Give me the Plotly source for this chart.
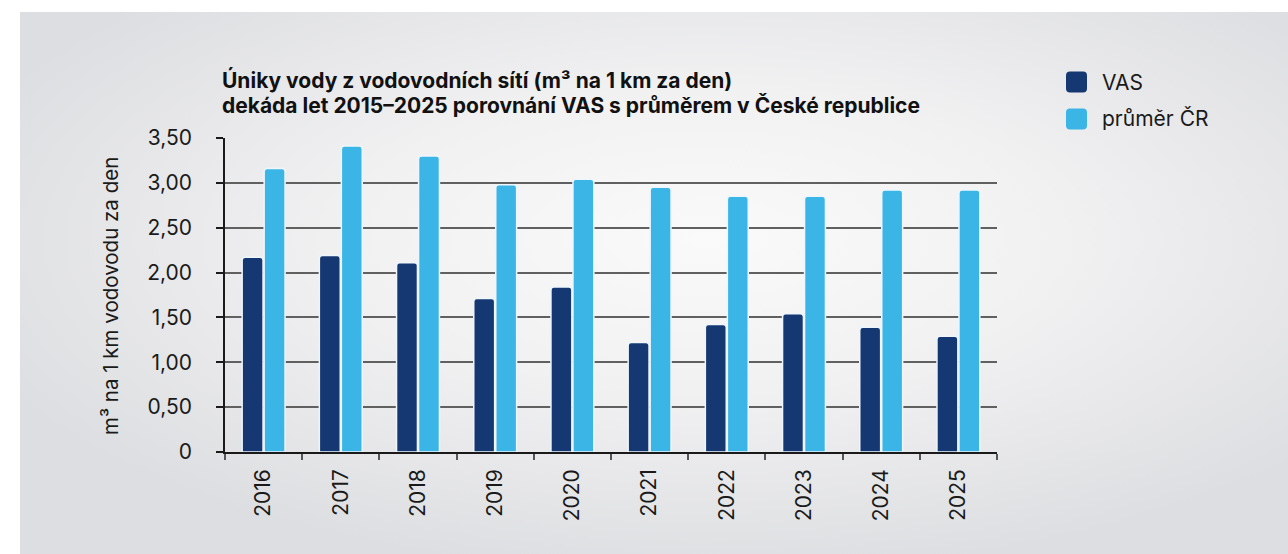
import base64
import plotly.graph_objects as go

years = ["2016", "2017", "2018", "2019", "2020", "2021", "2022", "2023", "2024", "2025"]
vas = [2.17, 2.19, 2.11, 1.71, 1.84, 1.22, 1.42, 1.54, 1.39, 1.29]
cr = [3.16, 3.41, 3.30, 2.98, 3.04, 2.95, 2.85, 2.85, 2.92, 2.92]
series_names = ["VAS", "průměr ČR"]
colors = ["#163872", "#3bb5e6"]
ytick_vals = [0, 0.5, 1.0, 1.5, 2.0, 2.5, 3.0, 3.5]
ytick_text = ["0", "0,50", "1,00", "1,50", "2,00", "2,50", "3,00", "3,50"]
title_lines = ["Úniky vody z vodovodních sítí (m³ na 1 km za den)",
               "dekáda let 2015–2025 porovnání VAS s průměrem v České republice"]
y_title = "m³ na 1 km vodovodu za den"

W, H = 1288, 554
L, R, T, B = 225, 997, 138, 452
PW, PH = R - L, B - T


def px(x):
    return (x - L) / PW


def py(y):
    return (B - y) / PH


FONT = "Inter, Roboto, sans-serif"

fig = go.Figure()
for name, vals, col in zip(series_names, [vas, cr], colors):
    fig.add_trace(go.Bar(
        x=years, y=vals, name=name, showlegend=False,
        marker=dict(color=col, line=dict(color="#eef6fb", width=1.5)),
    ))

svg = (
    "<svg xmlns='http://www.w3.org/2000/svg' width='1268' height='542'>"
    "<defs><radialGradient id='g' cx='0.54' cy='0.42' r='0.62'>"
    "<stop offset='0' stop-color='#fafafa'/>"
    "<stop offset='0.45' stop-color='#f1f1f2'/>"
    "<stop offset='1' stop-color='#dddee1'/>"
    "</radialGradient></defs>"
    "<rect width='1268' height='542' fill='url(#g)'/></svg>"
)
src = "data:image/svg+xml;base64," + base64.b64encode(svg.encode()).decode()

fig.update_layout(
    width=W, height=H,
    margin=dict(l=L, r=W - R, t=T, b=H - B, pad=0),
    paper_bgcolor="white",
    plot_bgcolor="rgba(0,0,0,0)",
    barmode="group",
    bargap=0.43,
    bargroupgap=0.05,
    barcornerradius=3,
    font=dict(family=FONT, color="#1a1a1a", size=21),
    images=[dict(source=src, xref="paper", yref="paper",
                 x=px(20), y=py(12), sizex=1268 / PW, sizey=542 / PH,
                 xanchor="left", yanchor="top", sizing="stretch", layer="below")],
    xaxis=dict(
        type="category", showgrid=False, showline=True, linecolor="#1a1a1a", linewidth=1.5,
        ticks="outside", tickson="boundaries", ticklen=6, tickcolor="#555", tickwidth=1.5,
        tickangle=-90, tickfont=dict(size=21, color="#1a1a1a"), ticklabelstandoff=7,
    ),
    yaxis=dict(
        range=[0, 3.5], tickvals=ytick_vals, ticktext=ytick_text,
        showgrid=True, gridcolor="#606060", gridwidth=1.5,
        zeroline=False, showline=True, linecolor="#1a1a1a", linewidth=1.5,
        ticks="outside", ticklen=7, tickcolor="#1a1a1a", tickwidth=1.5,
        tickfont=dict(size=21, color="#1a1a1a"), ticklabelstandoff=20,
    ),
)

annotations = [
    dict(text="<b>" + title_lines[0] + "</b>", x=px(220), y=py(95), xanchor="left", yanchor="bottom",
         font=dict(size=21, color="#111"), showarrow=False, xref="paper", yref="paper"),
    dict(text="<b>" + title_lines[1] + "</b>", x=px(220), y=py(120), xanchor="left", yanchor="bottom",
         font=dict(size=21, color="#111"), showarrow=False, xref="paper", yref="paper"),
    dict(text=y_title, textangle=-90, x=px(110), y=py(296), xanchor="center", yanchor="middle",
         font=dict(size=20.5, color="#1a1a1a"), showarrow=False, xref="paper", yref="paper"),
]
shapes = []
legend_y = [82, 119]
for name, col, ly in zip(series_names, colors, legend_y):
    x0, x1, y0, y1 = 1066, 1087, ly - 10.5, ly + 10.5
    r = 4
    path = (f"M {px(x0 + r)},{py(y0)} L {px(x1 - r)},{py(y0)} Q {px(x1)},{py(y0)} {px(x1)},{py(y0 + r)} "
            f"L {px(x1)},{py(y1 - r)} Q {px(x1)},{py(y1)} {px(x1 - r)},{py(y1)} "
            f"L {px(x0 + r)},{py(y1)} Q {px(x0)},{py(y1)} {px(x0)},{py(y1 - r)} "
            f"L {px(x0)},{py(y0 + r)} Q {px(x0)},{py(y0)} {px(x0 + r)},{py(y0)} Z")
    shapes.append(dict(type="path", path=path, xref="paper", yref="paper",
                       fillcolor=col, line=dict(width=0)))
    annotations.append(dict(text=name, x=px(1100), y=py(ly), xanchor="left", yanchor="middle",
                            font=dict(size=21, color="#1a1a1a"), showarrow=False,
                            xref="paper", yref="paper"))

fig.update_layout(annotations=annotations, shapes=shapes)
fig.write_html("out.html", config={"displayModeBar": False},
               post_script="document.body.style.margin='0';")
